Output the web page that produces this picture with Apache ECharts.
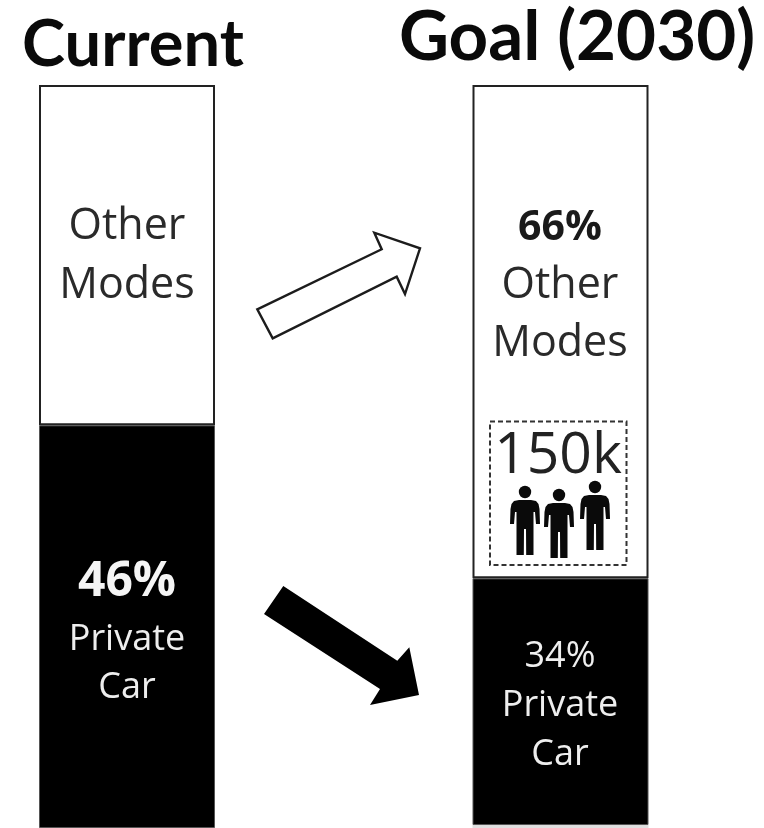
<!DOCTYPE html>
<html><head><meta charset="utf-8">
<style>html,body{margin:0;padding:0;background:#fff}#c{width:764px;height:828px}</style>
<script src="https://cdn.jsdelivr.net/npm/echarts@6/dist/echarts.min.js"></script>
</head><body><div id="c"></div>
<script>
// Data: drawn bar heights (share of a 0-100 bar)
const categories = ['Current', 'Goal (2030)'];
const baseValues = [0, 0.4];
const privateCarValues = [54.2, 33.2];
const otherModesValues = [45.8, 66.4];
const peopleLabel = '150k';

const chart = echarts.init(document.getElementById('c'), null, {renderer:'canvas'});
const sans = '"Open Sans"';
function txt(t, x, y, size, color, weight, family){
  return {type:'text', x:x, y:y, z:10, style:{text:t, fill:color, font:(weight||'normal')+' '+size+'px '+(family||sans), textAlign:'center', textVerticalAlign:'middle'}};
}
const personPts = [[-6,8],[6,8],[11,9],[13.5,12],[14.5,17],[15,32],[11,32],[10,20],[8.5,20],[8.5,63],[1.2,63],[1,37],[-1,37],[-1.2,63],[-8.5,63],[-8.5,20],[-10,20],[-11,32],[-15,32],[-14.5,17],[-13.5,12],[-11,9]];
function person(x,y){
  return {type:'group', x:x, y:y, children:[
    {type:'circle', z:10, shape:{cx:0,cy:0,r:6.2}, style:{fill:'#0a0a0a'}},
    {type:'polygon', z:10, shape:{points:personPts}, style:{fill:'#0a0a0a'}}
  ]};
}
const graphics = [
  txt(categories[0], 133, 45, 65, '#0a0a0a', 'bold', 'Lato'),
  txt(categories[1], 577, 38, 69, '#0a0a0a', 'bold', 'Lato'),
  txt('Other', 127, 227, 43, '#2a2a2a'),
  txt('Modes', 127, 286, 43, '#2a2a2a'),
  txt('46%', 127, 582, 48, '#f5f5f5', 'bold'),
  txt('Private', 127, 640, 36, '#eeeeee'),
  txt('Car', 127, 688, 36, '#eeeeee'),
  txt('66%', 560, 228, 41, '#1a1a1a', 'bold'),
  txt('Other', 560, 286, 43, '#2a2a2a'),
  txt('Modes', 560, 344, 43, '#2a2a2a'),
  txt(peopleLabel, 558, 457, 57, '#222222'),
  txt('34%', 560, 657, 36, '#eeeeee'),
  txt('Private', 560, 706, 36, '#eeeeee'),
  txt('Car', 560, 755, 36, '#eeeeee'),
  {type:'rect', z:9, shape:{x:490,y:421.5,width:136.5,height:143.5}, style:{fill:'none', stroke:'#333', lineWidth:2, lineDash:[5,3]}},
  person(525,492), person(559,495), person(595,487),
  {type:'polygon', z:9, shape:{points:[[257.3,309.3],[381.7,249.3],[374.3,232.7],[420,248.3],[405,294],[396.7,276.7],[272.7,338.3]]}, style:{fill:'#fff', stroke:'#1c1c1c', lineWidth:2.4, lineJoin:'miter'}},
  {type:'polygon', z:9, shape:{points:[[283.3,586],[397.3,660.7],[409.3,647.3],[419,695],[370,705],[380,689],[264,614]]}, style:{fill:'#000'}}
];
chart.setOption({
  animation:false,
  backgroundColor:'#fff',
  grid:{left:127, right:203.5, top:85, bottom:0},
  xAxis:{type:'category', data:categories, show:false, boundaryGap:false},
  yAxis:{type:'value', min:0, max:100, show:false},
  series:[
    {name:'Base', type:'bar', stack:'s', clip:false, barWidth:176, data:baseValues, itemStyle:{color:'#e0e0e0'}},
    {name:'Private Car', type:'bar', stack:'s', clip:false, barWidth:176, data:privateCarValues, itemStyle:{color:'#000', borderColor:'#555', borderWidth:1}},
    {name:'Other Modes', type:'bar', stack:'s', clip:false, barWidth:176, data:otherModesValues, itemStyle:{color:'#fff', borderColor:'#222', borderWidth:2}}
  ],
  graphic:graphics
});
</script></body></html>
